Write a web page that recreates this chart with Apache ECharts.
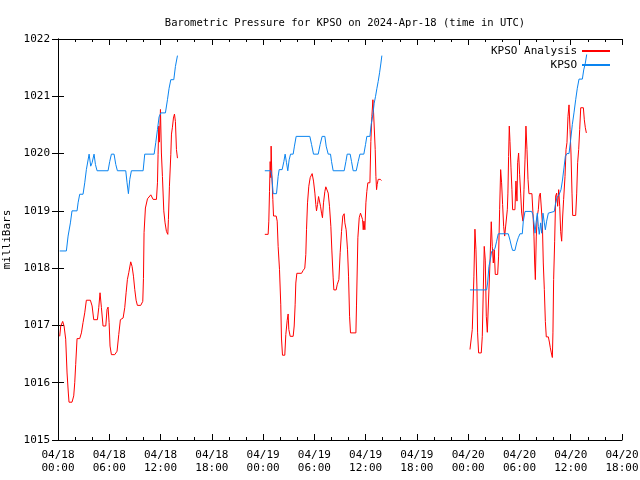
<!DOCTYPE html>
<html><head><meta charset="utf-8">
<script src="https://cdn.jsdelivr.net/npm/echarts@6/dist/echarts.min.js"></script>
<style>html,body{margin:0;padding:0;background:#fff}#c{width:640px;height:480px}</style>
</head><body><div id="c"></div>
<script>
// hours since 2024-04-18 00:00 UTC; null = gap
const analysisHours = [
0.2,0.32,0.55,0.71,0.9,1.06,1.21,1.29,1.64,1.84,1.96,2.07,2.23,2.54,2.74,2.93,3.13,3.32,3.79,3.99,4.18,4.61,4.77,4.92,5.08,5.27,5.59,5.74,5.86,5.98,6.09,6.25,6.64,6.91,7.11,7.3,7.62,7.81,7.97,8.12,8.28,8.51,8.67,8.83,8.98,9.14,9.29,9.68,9.92,10.0,10.07,10.23,10.47,10.86,11.13,11.52,11.64,11.71,11.79,11.87,11.99,12.1,12.22,12.38,12.53,12.69,12.85,12.92,13.04,13.2,13.28,13.39,13.51,13.63,13.74,13.86,13.98,
null,
24.2,24.59,24.67,24.75,24.83,24.9,24.94,25.02,25.14,25.22,25.53,25.65,25.76,25.92,26.07,26.15,26.27,26.54,26.66,26.82,26.93,27.01,27.17,27.52,27.64,27.75,27.83,27.95,28.5,28.69,28.88,29.0,29.08,29.2,29.35,29.51,29.74,29.9,30.06,30.17,30.25,30.37,30.49,30.6,30.72,30.84,30.95,31.07,31.23,31.34,31.5,31.62,31.77,31.93,32.05,32.2,32.28,32.55,32.67,32.87,33.02,33.18,33.33,33.49,33.57,33.72,33.88,34.0,34.12,34.23,34.86,34.93,35.09,35.25,35.4,35.56,35.64,35.72,35.8,35.91,36.03,36.14,36.26,36.5,36.61,36.73,36.85,36.93,37.04,37.12,37.2,37.28,37.35,37.47,37.59,37.71,37.86,
null,
48.21,48.4,48.48,48.67,48.79,48.91,49.03,49.1,49.22,49.53,49.65,49.77,49.88,50.0,50.12,50.24,50.47,50.55,50.7,50.82,50.94,51.05,51.17,51.45,51.56,51.68,51.8,51.91,52.03,52.15,52.27,52.5,52.58,52.65,52.73,52.81,52.89,53.01,53.12,53.2,53.47,53.59,53.71,53.79,53.9,54.02,54.14,54.26,54.41,54.53,54.65,54.76,54.88,55.0,55.11,55.46,55.58,55.7,55.78,55.86,55.97,56.09,56.21,56.32,56.44,56.56,56.68,56.79,56.91,57.03,57.14,57.38,57.5,57.61,57.73,57.85,57.92,58.0,58.12,58.24,58.35,58.47,58.59,58.71,58.82,58.94,59.06,59.17,59.33,59.45,59.56,59.68,59.8,59.92,60.03,60.15,60.23,60.58,60.7,60.81,60.93,61.05,61.17,61.48,61.59,61.71,61.83
];
const analysisValues = [
1016.81,1016.99,1017.07,1016.99,1016.76,1016.17,1015.82,1015.66,1015.66,1015.77,1016.0,1016.32,1016.77,1016.77,1016.87,1017.05,1017.22,1017.44,1017.44,1017.34,1017.10,1017.10,1017.31,1017.57,1017.31,1016.99,1016.99,1017.28,1017.32,1017.05,1016.64,1016.49,1016.49,1016.55,1016.84,1017.10,1017.13,1017.31,1017.57,1017.80,1017.92,1018.11,1018.03,1017.86,1017.63,1017.44,1017.35,1017.35,1017.42,1017.82,1018.62,1019.05,1019.21,1019.28,1019.2,1019.2,1019.49,1019.98,1020.48,1020.2,1020.77,1020.01,1019.6,1019.0,1018.79,1018.64,1018.59,1018.85,1019.43,1019.98,1020.34,1020.46,1020.62,1020.69,1020.56,1020.07,1019.92,
null,
1018.59,1018.59,1018.82,1019.34,1019.86,1019.58,1020.13,1019.66,1019.20,1018.91,1018.91,1018.82,1018.38,1017.98,1017.36,1016.78,1016.48,1016.48,1016.84,1017.09,1017.20,1016.93,1016.81,1016.81,1016.99,1017.36,1017.74,1017.91,1017.91,1017.96,1018.0,1018.24,1018.67,1019.14,1019.43,1019.58,1019.65,1019.52,1019.31,1019.11,1019.0,1019.11,1019.25,1019.22,1019.08,1018.96,1018.88,1019.14,1019.34,1019.42,1019.42,1019.31,1019.08,1018.73,1018.30,1017.83,1017.62,1017.62,1017.71,1017.80,1018.27,1018.64,1018.91,1018.95,1018.79,1018.67,1018.32,1017.86,1017.16,1016.87,1016.87,1017.34,1018.53,1018.88,1018.96,1018.99,1018.85,1018.67,1018.82,1018.67,1019.14,1019.34,1019.49,1019.49,1020.21,1020.65,1020.94,1020.71,1020.68,1020.07,1019.60,1019.37,1019.46,1019.55,1019.58,1019.55,1019.53,
null,
1016.58,1016.58,1016.93,1017.86,1018.68,1018.32,1017.63,1016.87,1016.52,1016.52,1016.81,1017.63,1018.38,1018.14,1017.16,1016.88,1016.88,1018.09,1018.81,1018.38,1018.09,1018.32,1017.89,1017.89,1018.21,1019.02,1019.72,1019.49,1019.11,1018.73,1018.56,1018.56,1019.02,1019.31,1019.95,1020.48,1020.21,1019.75,1019.37,1019.02,1019.02,1019.52,1019.17,1019.84,1020.01,1019.63,1019.31,1018.96,1018.82,1019.37,1019.89,1020.48,1020.07,1019.55,1019.30,1019.30,1018.96,1018.56,1018.09,1017.80,1018.56,1018.91,1019.02,1019.26,1019.31,1019.34,1018.79,1018.09,1017.63,1017.07,1016.80,1016.80,1016.71,1016.61,1016.52,1016.44,1016.87,1017.80,1018.47,1019.26,1019.31,1019.08,1019.37,1019.08,1018.64,1018.47,1018.91,1019.2,1019.6,1020.07,1020.19,1020.65,1020.85,1020.42,1020.01,1019.31,1018.92,1018.92,1019.31,1019.84,1020.07,1020.42,1020.80,1020.80,1020.59,1020.45,1020.36
];
const kpsoHours = [
0.2,0.98,1.18,1.45,1.64,2.23,2.35,2.54,2.93,3.13,3.32,3.64,3.83,3.99,4.22,4.38,4.57,5.86,6.05,6.25,6.56,6.76,6.95,7.93,8.08,8.24,8.4,8.59,9.96,10.15,11.25,11.44,11.64,11.83,12.03,12.57,12.81,13.0,13.2,13.55,13.74,13.98,
null,
24.2,24.9,25.02,25.18,25.57,25.76,25.88,26.23,26.43,26.58,26.74,26.89,27.05,27.21,27.52,27.67,27.87,29.47,29.67,29.9,30.45,30.68,30.91,31.23,31.38,31.62,31.89,32.01,32.2,33.49,33.69,33.84,34.19,34.35,34.54,34.9,35.13,35.33,35.79,35.99,36.14,36.5,36.65,36.85,37.0,37.16,37.32,37.47,37.63,37.79,37.9,
null,
48.21,50.16,50.27,50.43,50.59,50.74,50.94,51.13,51.33,51.52,52.69,52.89,53.08,53.2,53.47,53.67,53.86,54.06,54.33,54.45,54.65,55.43,55.58,55.7,55.82,55.94,56.09,56.21,56.32,56.48,56.6,56.75,56.91,57.03,57.18,57.38,57.57,58.08,58.24,58.39,58.63,58.86,59.02,59.21,59.37,59.56,59.8,59.99,60.19,60.38,60.58,60.77,60.97,61.36,61.52,61.71,61.87
];
const kpsoValues = [
1018.30,1018.30,1018.56,1018.79,1019.0,1019.0,1019.14,1019.29,1019.29,1019.49,1019.72,1019.99,1019.78,1019.84,1019.99,1019.81,1019.70,1019.70,1019.86,1019.99,1019.99,1019.81,1019.70,1019.70,1019.49,1019.30,1019.55,1019.70,1019.70,1019.99,1019.99,1020.19,1020.42,1020.64,1020.71,1020.71,1020.94,1021.14,1021.29,1021.29,1021.52,1021.71,
null,
1019.70,1019.70,1019.60,1019.30,1019.30,1019.60,1019.72,1019.72,1019.86,1019.99,1019.84,1019.70,1019.89,1019.99,1019.99,1020.13,1020.30,1020.30,1020.16,1019.99,1019.99,1020.16,1020.30,1020.30,1020.13,1019.99,1019.99,1019.86,1019.70,1019.70,1019.86,1019.99,1019.99,1019.86,1019.70,1019.70,1019.86,1019.99,1019.99,1020.16,1020.30,1020.30,1020.51,1020.68,1020.88,1021.0,1021.14,1021.26,1021.41,1021.58,1021.71,
null,
1017.62,1017.62,1017.74,1018.03,1018.15,1018.29,1018.29,1018.34,1018.47,1018.60,1018.60,1018.49,1018.37,1018.31,1018.31,1018.44,1018.53,1018.60,1018.60,1018.82,1018.99,1018.99,1018.93,1018.79,1018.61,1018.79,1018.96,1018.73,1018.59,1018.79,1018.61,1018.96,1018.79,1018.67,1018.82,1018.96,1018.99,1018.99,1019.14,1019.23,1019.28,1019.37,1019.52,1019.75,1019.95,1020.0,1020.0,1020.24,1020.51,1020.71,1020.94,1021.14,1021.30,1021.30,1021.46,1021.58,1021.73
];
const xTickHours = [0,6,12,18,24,30,36,42,48,54,60,66];
const titleText = 'Barometric Pressure for KPSO on 2024-Apr-18 (time in UTC)';
const yName = 'milliBars';
const seriesNames = ['KPSO Analysis','KPSO'];
const seriesColors = ['#ff0000','#0a84f0'];

function pairs(hs, vs){ return hs.map((h,i)=> h===null ? [hs[i-1]+0.01,'-'] : [h, vs[i]]); }
function xLabel(v){
  const day = 18 + Math.floor(v/24), hr = v % 24;
  return '04/' + day + '\n' + (hr<10?'0':'') + hr + ':00';
}
const font = 'DejaVu Sans Mono';
const chart = echarts.init(document.getElementById('c'), null, {renderer:'canvas'});
const axisLine = {show:true, lineStyle:{color:'#000', width:1}};
chart.setOption({
  animation:false,
  backgroundColor:'#fff',
  title:{text:titleText, left:340, textAlign:'center', top:13, textStyle:{fontFamily:font, fontSize:10.5, fontWeight:'normal', color:'#000'}},
  legend:{orient:'vertical', right:25, top:40, align:'right', itemGap:2, itemWidth:28, itemHeight:2, icon:'rect',
    textStyle:{fontFamily:font, fontSize:11, color:'#000', lineHeight:12}, data:seriesNames},
  grid:{left:58, right:18, top:39, bottom:40, containLabel:false, outerBoundsMode:'none'},
  xAxis:[{type:'value', min:0, max:66, interval:6, axisLine:axisLine,
     axisTick:{inside:true, length:6, lineStyle:{color:'#000'}},
     minorTick:{show:true, splitNumber:3, length:3, lineStyle:{color:'#000'}},
     splitLine:{show:false},
     axisLabel:{formatter:xLabel, fontFamily:font, fontSize:11, color:'#000', lineHeight:13, margin:9, hideOverlap:false}},
    {type:'value', position:'top', min:0, max:66, interval:6, axisLine:axisLine,
     axisTick:{inside:true, length:6, lineStyle:{color:'#000'}},
     minorTick:{show:true, splitNumber:3, length:3, lineStyle:{color:'#000'}},
     splitLine:{show:false}, axisLabel:{show:false}}],
  yAxis:[{type:'value', min:1015, max:1022, interval:1, axisLine:axisLine,
     name:yName, nameLocation:'middle', nameGap:40, nameRotate:90,
     nameTextStyle:{fontFamily:font, fontSize:11, color:'#000'},
     axisTick:{inside:true, length:6, lineStyle:{color:'#000'}},
     splitLine:{show:false},
     axisLabel:{formatter:v=>String(v), fontFamily:font, fontSize:11, color:'#000', margin:8}},
    {type:'value', position:'right', min:1015, max:1022, interval:1, axisLine:axisLine,
     axisTick:{inside:true, length:6, lineStyle:{color:'#000'}},
     splitLine:{show:false}, axisLabel:{show:false}}],
  series:[
    {name:seriesNames[0], type:'line', showSymbol:false, connectNulls:false, color:seriesColors[0],
     lineStyle:{width:1, color:seriesColors[0]}, data:pairs(analysisHours, analysisValues)},
    {name:seriesNames[1], type:'line', showSymbol:false, connectNulls:false, color:seriesColors[1],
     lineStyle:{width:1, color:seriesColors[1]}, data:pairs(kpsoHours, kpsoValues)}
  ]
});
</script></body></html>
